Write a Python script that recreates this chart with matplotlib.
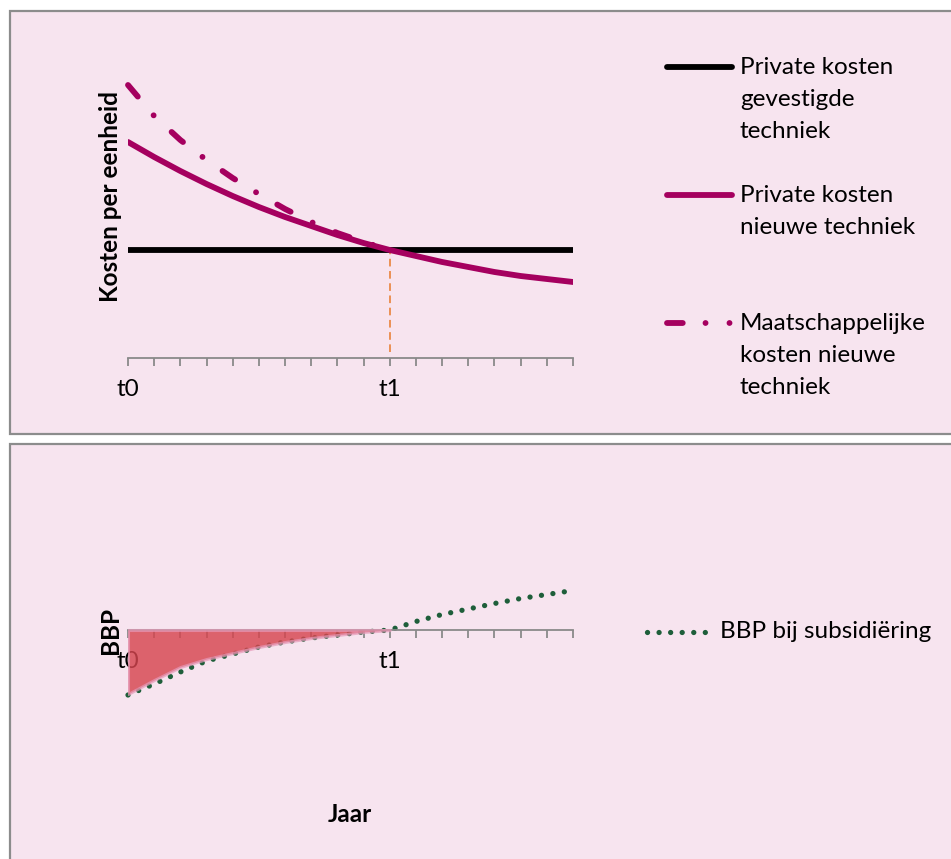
import matplotlib
matplotlib.use("Agg")
import matplotlib.pyplot as plt
from matplotlib.patches import Rectangle

plt.rcParams['font.family'] = ['Lato', 'DejaVu Sans']

# categorie-as (jaren), alleen t0 en t1 krijgen een label
jaren = list(range(18))
tick_labels = ['t0', '', '', '', '', '', '', '', '', '', 't1', '', '', '', '', '', '', '']

# bovenste grafiek: kosten per eenheid
kosten_gevestigd = [108] * 18
kosten_nieuw = [216, 201, 187, 174, 162, 151, 141, 132, 123, 115, 108, 102, 96, 91, 86, 82, 79, 76]
kosten_maatsch = [273, 242, 218, 198, 180, 164, 149, 136, 125, 116, 108]

# onderste grafiek: BBP en het verlies tot t1
bbp_subsidie = [-65, -54, -42, -31, -24, -17, -12, -8, -5, -2, 0, 8.5, 15.5, 21, 26.5, 31.5, 35.5, 39.5]
verlies = [-64, -50, -37, -29, -23, -17, -12, -8, -5, -2, 0]

legend_boven = ['Private kosten\ngevestigde\ntechniek',
                'Private kosten\nnieuwe techniek',
                'Maatschappelijke\nkosten nieuwe\ntechniek']
legend_onder = 'BBP bij subsidiëring'

ROZE = '#F7E4EF'
RAND = '#8C8C8C'
MAGENTA = '#A5005F'
GROEN = '#1E5E3A'
AS = '#8A8A8A'
FS = 17.5

W, H = 951, 859
fig = plt.figure(figsize=(W / 100, H / 100), dpi=100)

# achtergrond in pixelcoordinaten
bg = fig.add_axes([0, 0, 1, 1], zorder=0)
bg.set_xlim(0, W)
bg.set_ylim(H, 0)
bg.axis('off')
bg.add_patch(Rectangle((10, 11), 960, 423, facecolor=ROZE, edgecolor=RAND, lw=1.6))
bg.add_patch(Rectangle((10, 444), 960, 440, facecolor=ROZE, edgecolor=RAND, lw=1.6))


def pos(left, right, top, bottom):
    return [left / W, 1 - bottom / H, (right - left) / W, (bottom - top) / H]


def maak_as(ax):
    ax.set_facecolor('none')
    for s in ['top', 'right', 'left']:
        ax.spines[s].set_visible(False)
    ax.spines['bottom'].set_color(AS)
    ax.spines['bottom'].set_linewidth(1.3)
    ax.set_xlim(0, 17)
    ax.set_xticks(jaren)
    ax.set_xticklabels(tick_labels, fontsize=FS)
    ax.tick_params(axis='x', direction='out', length=6, width=1.3, color=AS, pad=9)
    ax.set_yticks([])


# --- bovenste grafiek ---
ax1 = fig.add_axes(pos(128, 573, 80, 358), zorder=1)
maak_as(ax1)
ax1.set_ylim(0, 278)
ax1.vlines(10, 6, kosten_gevestigd[10], colors='#E8792A', lw=1.1, linestyles=(0, (5, 3)), zorder=1)
ax1.plot(jaren, kosten_gevestigd, color='black', lw=4.2, solid_capstyle='round', zorder=2)
ax1.plot(jaren, kosten_nieuw, color=MAGENTA, lw=4.2, solid_capstyle='round', zorder=3)
ax1.plot(jaren[:11], kosten_maatsch, color=MAGENTA, lw=4.2, dash_capstyle='round',
         linestyle=(0, (2.6, 4.2, 0.01, 4.2)), zorder=3, clip_on=False)
fig.text(110 / W, 1 - 197 / H, 'Kosten per eenheid', rotation=90, fontsize=FS,
         fontweight='bold', ha='center', va='center')

# --- onderste grafiek ---
ax2 = fig.add_axes(pos(128, 573, 585, 700), zorder=1)
ax2.spines['bottom'].set_position(('data', 0))
maak_as(ax2)
ax2.set_ylim(-70, 45)
ax2.plot(jaren, bbp_subsidie, color=GROEN, lw=3.8, dash_capstyle='round',
         linestyle=(0, (0.01, 2.18)), zorder=2, clip_on=False)
ax2.fill_between(jaren[:11], 0, verlies, facecolor=(0.84, 0.27, 0.31, 0.82),
                 edgecolor=(0.90, 0.60, 0.72, 0.7), lw=2.2, zorder=3)
fig.text(110 / W, 1 - 631 / H, 'BBP', rotation=90, fontsize=FS,
         fontweight='bold', ha='center', va='center')
fig.text(350 / W, 1 - 815 / H, 'Jaar', fontsize=FS, fontweight='bold', ha='center', va='center')

# --- legenda's ---
regel = 32.5
stijlen = [dict(color='black', lw=4.2, solid_capstyle='round'),
           dict(color=MAGENTA, lw=4.2, solid_capstyle='round'),
           dict(color=MAGENTA, lw=4.2, dash_capstyle='round',
                linestyle=(0, (2.7, 3.9, 0.01, 4.1, 0.01, 3)))]
for label, y0, st in zip(legend_boven, [67, 195, 323], stijlen):
    bg.plot([667, 732], [y0, y0], **st)
    for i, tekst in enumerate(label.split('\n')):
        bg.text(740, y0 + i * regel, tekst, fontsize=FS, ha='left', va='center')

bg.plot([647, 706], [632, 632], color=GROEN, lw=3.8, dash_capstyle='round', linestyle=(0, (0.01, 2.18)))
bg.text(720, 632, legend_onder, fontsize=FS, ha='left', va='center')

fig.savefig('out.png', dpi=100)
